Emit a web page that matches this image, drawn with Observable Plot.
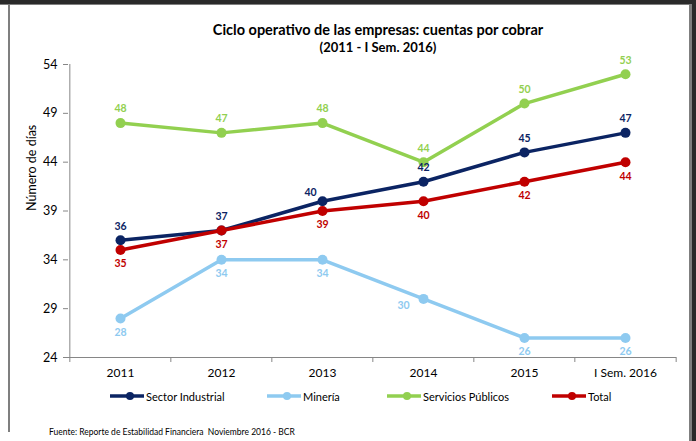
<!DOCTYPE html>
<html>
<head>
<meta charset="utf-8">
<script src="https://cdn.jsdelivr.net/npm/d3@7"></script>
<script src="https://cdn.jsdelivr.net/npm/@observablehq/plot@0.6"></script>
<style>
  html, body { margin: 0; padding: 0; background: #fff; }
  #page { position: relative; width: 696px; height: 441px; overflow: hidden; background: #fff; font-family: Lato, "DejaVu Sans", sans-serif; color: #000; }
  #title { height: 56px; box-sizing: border-box; padding-left: 60px; padding-top: 20px; text-align: center; font-weight: bold; }
  #title .t1 { font-size: 14.5px; line-height: 19px; }
  #title .t2 { font-size: 13px; line-height: 17px; }
  #chart svg { display: block; }
  .frame { position: absolute; }
  #legend .item { position: absolute; top: 389px; height: 14px; display: flex; align-items: center; font-size: 11px; white-space: nowrap; }
  #legend svg { display: block; margin-right: 2px; }
  #footer { position: absolute; left: 49px; top: 427px; font-size: 8.5px; }
</style>
</head>
<body>
<div id="page">
  <div class="frame" style="left:0;top:0;width:696px;height:4px;background:#2a2a2a"></div>
  <div class="frame" style="left:0;top:4px;width:696px;height:1px;background:#7f7f7f"></div>
  <div class="frame" style="left:8px;top:4px;width:2px;height:428px;background:#7f7f7f"></div>
  <div class="frame" style="left:689px;top:4px;width:3px;height:437px;background:#7f7f7f"></div>
  <div class="frame" style="left:692px;top:0;width:4px;height:441px;background:#2a2a2a"></div>
  <div id="title"><div class="t1"></div><div class="t2"></div></div>
  <div id="chart"></div>
  <div id="legend"></div>
  <div id="footer"></div>
</div>
<script>
const titleText = "Ciclo operativo de las empresas: cuentas por cobrar";
const subtitleText = "(2011 - I Sem. 2016)";
const yLabel = "Número de días";
const footerText = "Fuente: Reporte de Estabilidad Financiera\u00a0\u00a0Noviembre 2016 - BCR";

const categories = ["2011", "2012", "2013", "2014", "2015", "I Sem. 2016"];
const sectorIndustrial = [36, 37, 40, 42, 45, 47];
const mineria = [28, 34, 34, 30, 26, 26];
const serviciosPublicos = [48, 47, 48, 44, 50, 53];
const totalSeries = [35, 37, 39, 40, 42, 44];
const seriesNames = ["Sector Industrial", "Minería", "Servicios Públicos", "Total"];
const yTicks = [24, 29, 34, 39, 44, 49, 54];

const seriesValues = [sectorIndustrial, mineria, serviciosPublicos, totalSeries];
const seriesColors = ["#0b2463", "#8ecaf0", "#92d050", "#c00000"];
const drawOrder = ["Minería", "Servicios Públicos", "Sector Industrial", "Total"];

const rows = [];
seriesNames.forEach((s, si) => {
  categories.forEach((c, ci) => rows.push({series: s, cat: c, value: seriesValues[si][ci]}));
});

// label placement (style, not data)
const above = new Set(["Sector Industrial", "Servicios Públicos"]);
function placement(d) {
  if (d.series === "Sector Industrial" && d.cat === "2013") return "upleft";
  if (d.series === "Minería" && d.cat === "2014") return "left";
  return above.has(d.series) ? "above" : "below";
}
const offsets = {above: [0, -14], below: [0, 14], upleft: [-12, -9], left: [-20, 7]};

document.querySelector("#title .t1").textContent = titleText;
document.querySelector("#title .t2").textContent = subtitleText;
document.getElementById("footer").textContent = footerText;

const W = 696, mL = 68, mR = 20;
const step = (W - mL - mR) / categories.length;
const colorScale = {domain: seriesNames, range: seriesColors};

const marks = [
  Plot.ruleY([24], {stroke: "#868686", strokeWidth: 1}),
  Plot.ruleX([categories[0]], {dx: -step / 2, y1: 24, y2: 54, stroke: "#868686"}),
  Plot.ruleX(categories, {x: d => d, dx: -step / 2, y1: 24, y2: 24, insetBottom: -5, stroke: "#868686"}),
  Plot.ruleX([categories[categories.length - 1]], {dx: step / 2, y1: 24, y2: 24, insetBottom: -5, stroke: "#868686"}),
  Plot.axisY({ticks: yTicks, tickSize: 5, tickPadding: 6, stroke: "#868686", fill: "#000", fontSize: 12.5, label: null}),
  Plot.axisX({tickSize: 0, tickPadding: 11, fill: "#000", fontSize: 12, label: null}),
  Plot.text([yLabel], {frameAnchor: "left", rotate: -90, dx: -37, fontSize: 12.5, fill: "#000"})
];
drawOrder.forEach(s => {
  const data = rows.filter(r => r.series === s);
  marks.push(Plot.line(data, {x: "cat", y: "value", stroke: "series", strokeWidth: 3.5, strokeLinejoin: "round"}));
  marks.push(Plot.dot(data, {x: "cat", y: "value", fill: "series", r: 5}));
});
Object.entries(offsets).forEach(([key, [dx, dy]]) => {
  marks.push(Plot.text(rows.filter(r => placement(r) === key), {
    x: "cat", y: "value", text: d => String(d.value), fill: "series",
    dx, dy, fontSize: 10.5, fontWeight: "bold"
  }));
});

const chart = Plot.plot({
  width: W, height: 334,
  marginTop: 8, marginBottom: 33, marginLeft: mL, marginRight: mR,
  x: {type: "point", domain: categories, padding: 0.5, align: 0.5},
  y: {domain: [24, 54]},
  color: colorScale,
  style: {fontFamily: "Lato, 'DejaVu Sans', sans-serif", background: "transparent", color: "#000", overflow: "visible"},
  marks
});
document.getElementById("chart").appendChild(chart);

// legend
const legendLeft = [110, 267, 387, 552];
const legend = document.getElementById("legend");
seriesNames.forEach((s, i) => {
  const item = document.createElement("div");
  item.className = "item";
  item.style.left = legendLeft[i] + "px";
  const sw = d3.create("svg").attr("width", 34).attr("height", 10);
  sw.append("line").attr("x1", 0).attr("x2", 34).attr("y1", 5).attr("y2", 5)
    .attr("stroke", seriesColors[i]).attr("stroke-width", 3.5);
  sw.append("circle").attr("cx", 20).attr("cy", 5).attr("r", 4).attr("fill", seriesColors[i]);
  item.appendChild(sw.node());
  const span = document.createElement("span");
  span.textContent = s;
  item.appendChild(span);
  legend.appendChild(item);
});
</script>
</body>
</html>
